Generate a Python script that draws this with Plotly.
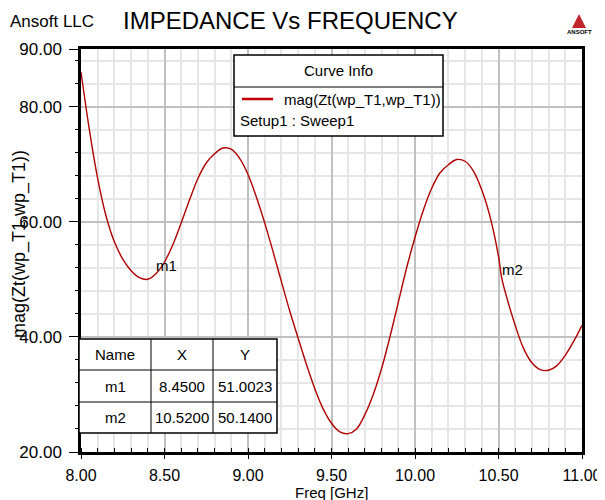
import plotly.graph_objects as go

freq = [8.00, 8.05, 8.10, 8.15, 8.20, 8.25, 8.30, 8.35, 8.40, 8.45, 8.50, 8.55, 8.60, 8.65, 8.70,
        8.75, 8.80, 8.85, 8.90, 8.95, 9.00, 9.05, 9.10, 9.15, 9.20, 9.25, 9.30, 9.35, 9.40, 9.45,
        9.50, 9.55, 9.60, 9.65, 9.70, 9.75, 9.80, 9.85, 9.90, 9.95, 10.00, 10.05, 10.10, 10.15,
        10.20, 10.25, 10.30, 10.35, 10.40, 10.45, 10.50, 10.52, 10.55, 10.60, 10.65, 10.70, 10.75,
        10.80, 10.85, 10.90, 10.95, 11.00]
mag = [86.0, 76.0, 67.5, 61.0, 56.5, 53.5, 51.5, 50.3, 50.0, 51.0, 53.0, 56.0, 59.8, 63.8, 67.5,
       70.2, 71.8, 72.8, 72.6, 71.0, 68.2, 64.3, 59.8, 54.8, 49.6, 44.5, 39.8, 35.2, 31.0, 27.5,
       25.0, 23.5, 23.2, 24.0, 26.5, 30.0, 34.5, 40.0, 46.0, 52.0, 57.3, 62.0, 65.8, 68.5,
       69.9, 70.8, 70.5, 68.8, 65.5, 60.8, 54.0, 50.1, 46.8, 42.0, 38.0, 35.5, 34.3,
       34.2, 35.0, 36.8, 39.2, 42.0]

marker_names = ["m1", "m2"]
marker_x = [8.45, 10.52]
marker_y = [51.0023, 50.1400]

x_ticks = [8.0, 8.5, 9.0, 9.5, 10.0, 10.5, 11.0]
y_ticks = [20, 40, 60, 80, 90]

FONT = "Liberation Sans, Arial, sans-serif"
OFF = 8  # default page body margin
FW, FH = 605 - OFF, 500 - OFF
L, R, T, B = 81, 582, 49, 452   # plot area in screen pixels
W, H = R - L, B - T


def px(xp):
    return (xp - L) / W


def py(yp):
    return (B - yp) / H


fig = go.Figure()
fig.add_trace(go.Scatter(x=freq, y=mag, mode="lines", line=dict(color="#b00000", width=1.4),
                         line_shape="spline", hoverinfo="skip", showlegend=False))

shapes = []
annotations = []

# marker labels
for n, mx, my in zip(marker_names, marker_x, marker_y):
    annotations.append(dict(x=mx, y=my, xref="x", yref="y", text=n, showarrow=False,
                            xanchor="left", yanchor="bottom", xshift=-2, yshift=-2,
                            font=dict(family=FONT, size=15, color="black")))

# Title and header texts
annotations.append(dict(x=px(290), y=py(20), xref="paper", yref="paper", text="IMPEDANCE Vs FREQUENCY",
                        showarrow=False, xanchor="center", yanchor="middle",
                        font=dict(family=FONT, size=24, color="black")))
annotations.append(dict(x=px(8), y=py(22), xref="paper", yref="paper", text="Ansoft LLC",
                        showarrow=False, xanchor="left", yanchor="middle",
                        font=dict(family=FONT, size=17, color="black")))
annotations.append(dict(x=px(19), y=py(244), xref="paper", yref="paper", text="mag(Zt(wp_T1,wp_T1))",
                        showarrow=False, textangle=-90, xanchor="center", yanchor="middle",
                        font=dict(family=FONT, size=18, color="black")))

# Ansoft logo
shapes.append(dict(type="path", xref="paper", yref="paper",
                   path=f"M {px(579)} {py(14)} L {px(586)} {py(28)} L {px(572)} {py(28)} Z",
                   fillcolor="#c0262b", line=dict(width=0)))
annotations.append(dict(x=px(579), y=py(32), xref="paper", yref="paper", text="<b>ANSOFT</b>",
                        showarrow=False, xanchor="center", yanchor="middle",
                        font=dict(family=FONT, size=6, color="black")))

# Curve info legend box
shapes.append(dict(type="rect", xref="paper", yref="paper", x0=px(234), x1=px(443), y0=py(55), y1=py(136),
                   fillcolor="white", line=dict(color="black", width=1.5), layer="above"))
shapes.append(dict(type="line", xref="paper", yref="paper", x0=px(234), x1=px(443), y0=py(87), y1=py(87),
                   line=dict(color="black", width=1), layer="above"))
shapes.append(dict(type="line", xref="paper", yref="paper", x0=px(242), x1=px(273), y0=py(99), y1=py(99),
                   line=dict(color="#c00000", width=2.5), layer="above"))
annotations.append(dict(x=px(338), y=py(71), xref="paper", yref="paper", text="Curve Info",
                        showarrow=False, xanchor="center", yanchor="middle",
                        font=dict(family=FONT, size=15, color="black")))
annotations.append(dict(x=px(282), y=py(100), xref="paper", yref="paper", text="mag(Zt(wp_T1,wp_T1))",
                        showarrow=False, xanchor="left", yanchor="middle",
                        font=dict(family=FONT, size=15, color="black")))
annotations.append(dict(x=px(238), y=py(120), xref="paper", yref="paper", text="Setup1 : Sweep1",
                        showarrow=False, xanchor="left", yanchor="middle",
                        font=dict(family=FONT, size=15, color="black")))

# Marker table
tx = [79, 151, 213, 277]
ty = [339, 370, 402, 433]
shapes.append(dict(type="rect", xref="paper", yref="paper", x0=px(tx[0]), x1=px(tx[-1]),
                   y0=py(ty[0]), y1=py(ty[-1]), fillcolor="white",
                   line=dict(color="black", width=1.5), layer="above"))
for xv in tx[1:-1]:
    shapes.append(dict(type="line", xref="paper", yref="paper", x0=px(xv), x1=px(xv),
                       y0=py(ty[0]), y1=py(ty[-1]), line=dict(color="black", width=1), layer="above"))
for yv in ty[1:-1]:
    shapes.append(dict(type="line", xref="paper", yref="paper", x0=px(tx[0]), x1=px(tx[-1]),
                       y0=py(yv), y1=py(yv), line=dict(color="black", width=1), layer="above"))
rows = [["Name", "X", "Y"]] + [[n, f"{a:.4f}", f"{b:.4f}"] for n, a, b in zip(marker_names, marker_x, marker_y)]
for r, row in enumerate(rows):
    for c, txt in enumerate(row):
        annotations.append(dict(x=px((tx[c] + tx[c + 1]) / 2), y=py((ty[r] + ty[r + 1]) / 2),
                                xref="paper", yref="paper", text=txt, showarrow=False,
                                xanchor="center", yanchor="middle",
                                font=dict(family=FONT, size=15, color="black")))

# x axis title
annotations.append(dict(x=px(331), y=py(492), xref="paper", yref="paper", text="Freq [GHz]",
                        showarrow=False, xanchor="center", yanchor="middle",
                        font=dict(family=FONT, size=15, color="black")))

fig.update_layout(
    width=FW, height=FH, autosize=False,
    margin=dict(l=L - OFF, r=FW - (R - OFF), t=T - OFF, b=FH - (B - OFF), pad=0, autoexpand=False),
    plot_bgcolor="white", paper_bgcolor="white",
    shapes=shapes, annotations=annotations,
    font=dict(family=FONT, size=15, color="black"),
    xaxis=dict(range=[8.0, 11.0], tickvals=x_ticks, ticktext=[f"{v:.2f}" for v in x_ticks],
               automargin=False,
               showgrid=True, gridcolor="#c0c0c0", gridwidth=1.5,
               minor=dict(dtick=0.1, tick0=8.0, showgrid=True, gridcolor="#e6e6e6", ticks="inside",
                          ticklen=4, tickcolor="black"),
               ticks="outside", ticklen=4, tickcolor="black",
               ticklabelstandoff=3,
               showline=True, linecolor="black", linewidth=2.5, mirror=True, zeroline=False,
               tickfont=dict(size=16)),
    yaxis=dict(range=[20, 90], tickvals=y_ticks, ticktext=[f"{v:.2f}" for v in y_ticks],
               automargin=False,
               showgrid=True, gridcolor="#c0c0c0", gridwidth=1.5,
               minor=dict(dtick=4, tick0=20, showgrid=True, gridcolor="#e6e6e6", ticks="outside",
                          ticklen=3, tickcolor="black"),
               ticks="outside", ticklen=9, tickcolor="black",
               ticklabelstandoff=4,
               showline=True, linecolor="black", linewidth=2.5, mirror=True, zeroline=False,
               tickfont=dict(size=17)),
)

fig.write_html("out.html", config={"displayModeBar": False, "responsive": False})
